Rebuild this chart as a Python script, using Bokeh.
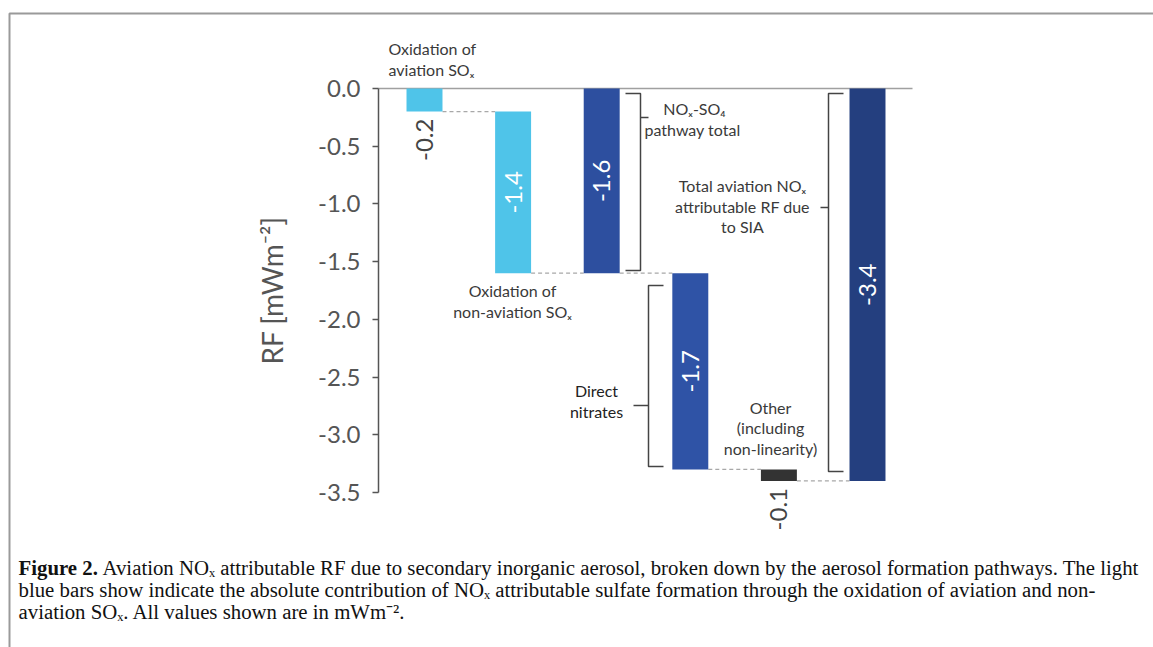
import math
from bokeh.plotting import figure
from bokeh.models import Range1d, LinearAxis, FixedTicker, PrintfTickFormatter
from bokeh.core.properties import value
from bokeh.embed import file_html
from bokeh.resources import INLINE

# ---------------- data ----------------
categories = [
    "Oxidation of aviation SOx",
    "Oxidation of non-aviation SOx",
    "NOx-SO4 pathway total",
    "Direct nitrates",
    "Other (including non-linearity)",
    "Total aviation NOx attributable RF due to SIA",
]
values = [-0.2, -1.4, -1.6, -1.7, -0.1, -3.4]
bases = [0.0, -0.2, 0.0, -1.6, -3.3, 0.0]
bar_colors = ["#4FC4E9", "#4FC4E9", "#2D4F9F", "#2F53A6", "#333333", "#243F7F"]
value_labels = ["-0.2", "-1.4", "-1.6", "-1.7", "-0.1", "-3.4"]
label_inside = [False, True, True, True, False, True]
y_ticks = [0.0, -0.5, -1.0, -1.5, -2.0, -2.5, -3.0, -3.5]

# ---------------- layout helpers (pixel -> data) ----------------
W, H = 1153, 647
X0, DX = 424.0, 88.6
Y0, DY = 88.0, 404.0 / 3.5


def X(px):
    return (px - X0) / DX


def Y(py):
    return -(py - Y0) / DY


SANS = "Lato"
SERIF = "Liberation Serif"
TXT = "#3a3a3a"

p = figure(width=W, height=H, output_backend="svg", toolbar_location=None,
           x_range=Range1d(X(0), X(W)), y_range=Range1d(Y(H), Y(0)),
           x_axis_type=None, y_axis_type=None, min_border=0,
           outline_line_color=None, background_fill_color="white",
           border_fill_color="white")

idx = list(range(len(values)))
bw = 0.406
ends = [b + v for b, v in zip(bases, values)]

# outer frame of the figure panel
p.line([X(9), X(9), X(W + 5)], [Y(H + 5), Y(13), Y(13)], line_color="#9a9a9a", line_width=2)

# zero line
p.line([X(378), X(912)], [0, 0], line_color="#a0a0a0", line_width=1.5)

# dashed connectors
cx0 = [i + bw / 2 for i in idx[:-1]]
cx1 = [i + 1 - bw / 2 for i in idx[:-1]]
cy = ends[:-1]
p.segment(x0=cx0, y0=cy, x1=cx1, y1=cy, line_color="#a8a8a8", line_width=1.3, line_dash="4 3")

# bars
p.vbar(x=idx, width=bw, top=bases, bottom=ends, fill_color=bar_colors, line_color=None)

# value labels
in_x = [i for i, f in zip(idx, label_inside) if f]
in_y = [b + v / 2 for b, v, f in zip(bases, values, label_inside) if f]
in_t = [t for t, f in zip(value_labels, label_inside) if f]
p.text(x=in_x, y=in_y, text=in_t, angle=math.pi / 2, text_align="center", text_baseline="middle",
       text_color="white", text_font=value(SANS), text_font_size="24px")
out_x = [i for i, f in zip(idx, label_inside) if not f]
out_y = [e for e, f in zip(ends, label_inside) if not f]
out_t = [t for t, f in zip(value_labels, label_inside) if not f]
p.text(x=out_x, y=out_y, text=out_t, angle=math.pi / 2, text_align="right", text_baseline="middle",
       y_offset=7, text_color="#444444", text_font=value(SANS), text_font_size="24px")

# y axis
yaxis = LinearAxis(fixed_location=X(378), bounds=(-3.5, 0.0),
                   ticker=FixedTicker(ticks=y_ticks),
                   formatter=PrintfTickFormatter(format="%.1f"),
                   axis_label="RF [mWm\u207b\u00b2]")
yaxis.axis_line_color = "#555555"
yaxis.axis_line_width = 1.5
yaxis.major_tick_line_color = "#555555"
yaxis.major_tick_line_width = 1.5
yaxis.major_tick_out = 6
yaxis.major_tick_in = 0
yaxis.minor_tick_line_color = None
yaxis.major_label_text_font = SANS
yaxis.major_label_text_font_size = "24px"
yaxis.major_label_text_color = "#555555"
yaxis.major_label_standoff = 12
yaxis.axis_label_text_font = SANS
yaxis.axis_label_text_font_size = "28px"
yaxis.axis_label_text_font_style = "normal"
yaxis.axis_label_text_color = "#555555"
yaxis.axis_label_standoff = 26
p.add_layout(yaxis, "left")

# brackets
bk_color = "#444444"
br_xs = [
    [X(625), X(640), X(640), X(625)], [X(640), X(648)],
    [X(663), X(648), X(648), X(663)], [X(648), X(633)],
    [X(843), X(828), X(828), X(843)], [X(828), X(820)],
]
br_ys = [
    [Y(93), Y(93), Y(270), Y(270)], [Y(117), Y(117)],
    [Y(285), Y(285), Y(466), Y(466)], [Y(405), Y(405)],
    [Y(93), Y(93), Y(471), Y(471)], [Y(207), Y(207)],
]
p.multi_line(xs=br_xs, ys=br_ys, line_color=bk_color, line_width=1.5)


def txt(px, py, s, align="center", size="16px", color=TXT, font=SANS, style="normal"):
    p.text(x=[X(px)], y=[Y(py)], text=[s], text_align=align, text_baseline="middle",
           text_color=color, text_font=value(font), text_font_size=size, text_font_style=style)


# annotations
txt(388, 48, "Oxidation of", align="left")
txt(388, 69, "aviation SO\u2093", align="left")
txt(512, 290, "Oxidation of")
txt(512, 311, "non-aviation SO\u2093")
txt(694, 108, "NO\u2093-SO\u2084")
txt(692, 129, "pathway total")
txt(742, 185, "Total aviation NO\u2093")
txt(742, 206, "attributable RF due")
txt(742, 226, "to SIA")
txt(596, 390, "Direct", color="#222222")
txt(596, 411, "nitrates", color="#222222")
txt(770, 407, "Other")
txt(770, 427, "(including")
txt(770, 448, "non-linearity)")

# caption
CAP = "20.8px"
txt(18, 567, "Figure 2.", align="left", size=CAP, color="#111111", font=SERIF, style="bold")
txt(102, 567, "Aviation NO\u2093 attributable RF due to secondary inorganic aerosol, broken down by the aerosol formation pathways. The light",
    align="left", size=CAP, color="#111111", font=SERIF)
txt(18, 589, "blue bars show indicate the absolute contribution of NO\u2093 attributable sulfate formation through the oxidation of aviation and non-",
    align="left", size=CAP, color="#111111", font=SERIF)
txt(18, 611, "aviation SO\u2093. All values shown are in mWm\u207b\u00b2.",
    align="left", size=CAP, color="#111111", font=SERIF)

open("out.html", "w").write(file_html(p, INLINE))
